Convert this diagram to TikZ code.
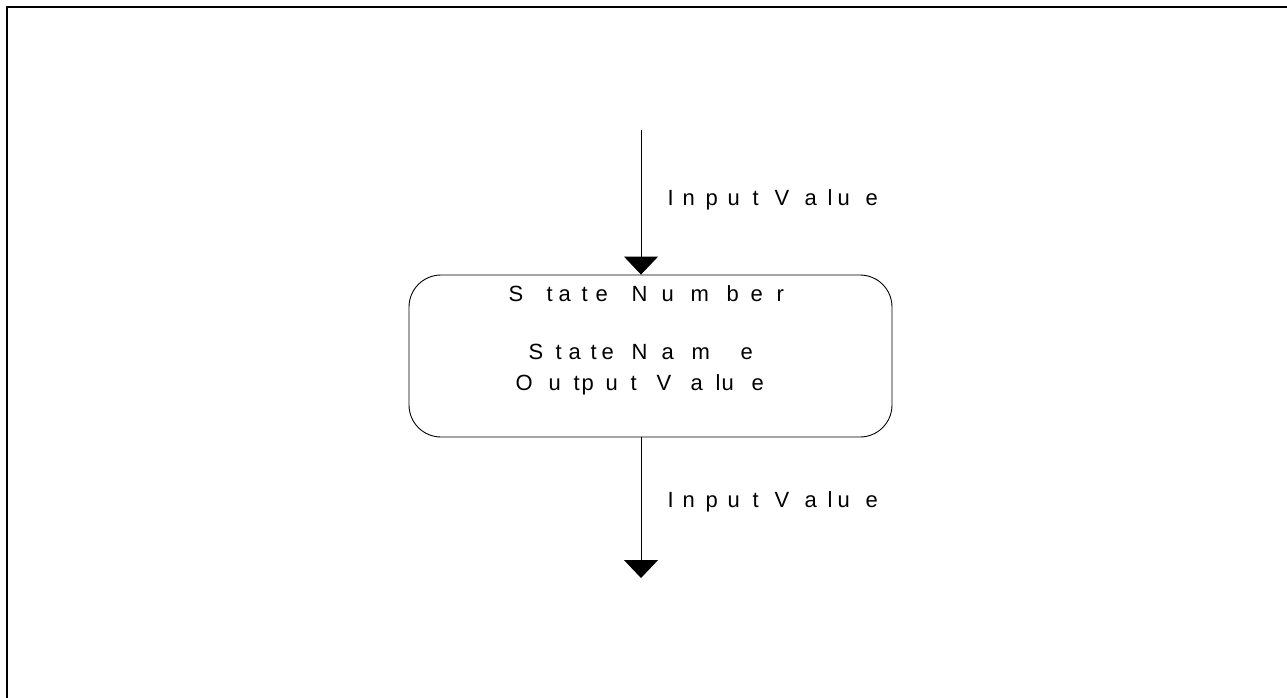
\documentclass[tikz,border=0pt]{standalone}
\usepackage{fontspec}
\setmainfont{Liberation Sans}
\usetikzlibrary{arrows.meta}
\newcommand\gl[2]{\makebox[#1pt][l]{#2}}
\begin{document}
\begin{tikzpicture}[x=1pt,y=-1pt,
  lbl/.style={font=\fontsize{22}{26}\selectfont, inner sep=0pt, anchor=base west},
  statebox/.style={draw, line width=0.9pt, rounded corners=32pt, minimum width=483pt, minimum height=162pt, inner sep=0pt},
  flow/.style={line width=0.9pt, -{Triangle[width=34pt,length=18pt]}},
  frame/.style={line width=2pt}]
\useasboundingbox (0,0) rectangle (1287,697);
\draw[frame] (7,700) -- (7,7) -- (1290,7);
\node[statebox] (state) at (650.5,356) {};
\coordinate (src) at (641,130);
\coordinate (sink) at (641,578);
\draw[flow] (src) -- (src |- state.north);
\draw[flow] (src |- state.south) -- (sink);
\node[lbl] (in1) at (667.5,205) {\gl{15}{I}\gl{23}{n}\gl{22}{p}\gl{25}{u}\gl{22}{t }\gl{30}{V}\gl{23}{a}\gl{10}{l}\gl{28}{u}e};
\node[lbl] (in2) at (667.5,507) {\gl{15}{I}\gl{23}{n}\gl{22}{p}\gl{25}{u}\gl{22}{t }\gl{30}{V}\gl{23}{a}\gl{10}{l}\gl{28}{u}e};
\node[lbl] (num) at (508.5,301.5) {\gl{38}{S}\gl{12}{t}\gl{23}{a}\gl{14}{t}\gl{36}{e }\gl{30}{N}\gl{29}{u}\gl{36}{m}\gl{24}{b}\gl{26}{e}r};
\node[lbl] (name) at (528.5,359) {\gl{27}{S}\gl{13}{t}\gl{22}{a}\gl{11}{t}\gl{30}{e }\gl{30}{N}\gl{30}{a}\gl{49}{m}e};
\node[lbl] (out) at (515.5,390.5) {\gl{33}{O}\gl{25}{u}\gl{8}{t}\gl{24}{p}\gl{25}{u}\gl{26}{t }\gl{34}{V}\gl{25}{a}\gl{6}{l}\gl{30}{u}e};
\end{tikzpicture}
\end{document}
